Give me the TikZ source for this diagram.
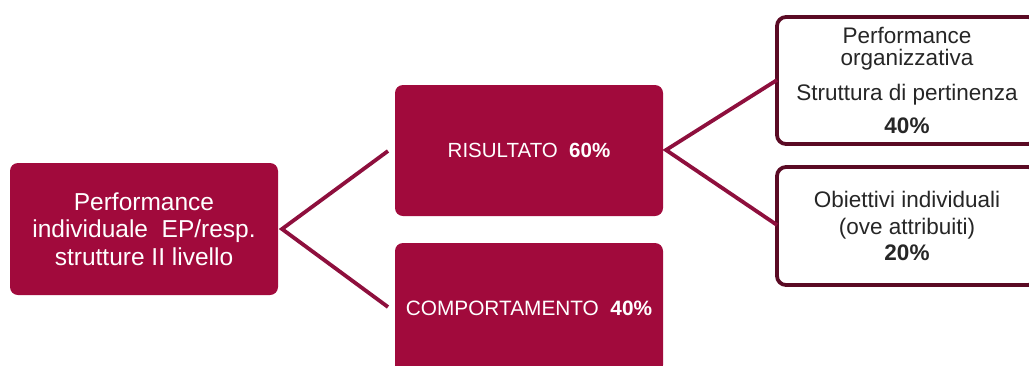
\documentclass[tikz,border=0pt]{standalone}
\usepackage{fontspec}
\setmainfont{Liberation Sans}
\definecolor{boxfill}{HTML}{A10A3C}
\definecolor{conn}{HTML}{8E0F3D}
\definecolor{edge}{HTML}{5A0A24}
\definecolor{txt}{HTML}{262626}
\begin{document}
\begin{tikzpicture}[x=1pt,y=-1pt,
  filled/.style={fill=boxfill, draw=none, rounded corners=8pt, text=white, align=center, inner sep=0pt},
  outlined/.style={draw=edge, line width=3.8pt, fill=white, rounded corners=9pt, text=txt, align=center, inner sep=0pt},
  link/.style={draw=conn, line width=3.8pt}]
\useasboundingbox (0,0) rectangle (1029,365);
\clip (0,0) rectangle (1029,365);
% left box
\node[filled, minimum width=268pt, minimum height=132pt, font=\fontsize{24.5}{27.5}\selectfont] (L) at (144,229)
  {Performance\\individuale\ \ EP/resp.\\strutture II livello};
% middle boxes
\node[filled, minimum width=268pt, minimum height=131pt, font=\fontsize{20.5}{22}\selectfont] (R) at (529,150.5)
  {RISULTATO\ \ \textbf{60\%}};
\node[filled, minimum width=268pt, minimum height=130pt, font=\fontsize{20.8}{22}\selectfont] (C) at (529,308)
  {COMPORTAMENTO\ \ \textbf{40\%}};
% right boxes
\node[outlined, minimum width=260pt, minimum height=127pt, font=\fontsize{22.5}{21.5}\selectfont] (P) at (907,80.5)
  {Performance\\organizzativa\\[14pt]Struttura di pertinenza\\[11pt]\textbf{40\%}};
\node[outlined, minimum width=260pt, minimum height=118pt, font=\fontsize{22.5}{27}\selectfont] (O) at (907,226)
  {Obiettivi individuali\\(ove attribuiti)\\[-1pt]\textbf{20\%}};
% connectors
\coordinate (a1) at (282,229);
\coordinate (a1u) at (388,151);
\coordinate (a1d) at (388,307);
\coordinate (a2) at (666,150);
\coordinate (a2u) at (777,80);
\coordinate (a2d) at (777,225);
\draw[link] (a1u) -- (a1) -- (a1d);
\draw[link] (a2u) -- (a2) -- (a2d);
\end{tikzpicture}
\end{document}
